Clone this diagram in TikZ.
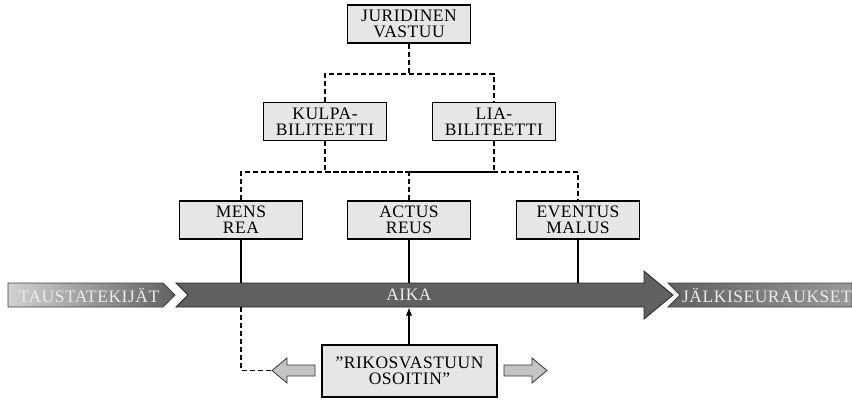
\documentclass[tikz,border=0pt]{standalone}
\usepackage{fontspec}
\setmainfont[LetterSpace=3]{Liberation Serif}
\usetikzlibrary{arrows.meta, positioning}

\definecolor{boxgray}{RGB}{230,230,230}
\definecolor{timegray}{RGB}{95,96,98}
\definecolor{smallgray}{RGB}{196,196,196}

\begin{document}
\begin{tikzpicture}[
    x=1pt, y=-1pt,
    >=Latex,
    every node/.style={font=\fontsize{17.5}{16}\selectfont},
    box/.style={rectangle, draw=black, fill=boxgray, line width=1.1pt, inner sep=2pt, align=center, minimum width=123pt, minimum height=38pt},
    link/.style={line width=1.4pt, dash pattern=on 5pt off 3pt},
    stem/.style={line width=1.8pt},
    band/.style={draw=black!75, line width=0.8pt},
    sidearrow/.style={draw=black!80, fill=smallgray, line width=0.8pt}
  ]
    \useasboundingbox (0,0) rectangle (852,400);

    % hierarchy
    \node[box] (vastuu) at (409,24) {JURIDINEN\\VASTUU};
    \node[box] (kulpa) at (325,121.5) {KULPA-\\BILITEETTI};
    \node[box] (lia) at (494,121.5) {LIA-\\BILITEETTI};
    \node[box] (mens) at (241,220) {MENS\\REA};
    \node[box] (actus) at (409,220) {ACTUS\\REUS};
    \node[box] (eventus) at (578,220) {EVENTUS\\MALUS};
    \coordinate (top) at (409,74);
    \coordinate (mid) at (409,172);

    \draw[link] (vastuu.south) -- (top);
    \draw[link] (kulpa.north) |- (top) -| (lia.north);
    \draw[link] (kulpa.south) |- (mid);
    \draw[link] (lia.south) |- (mid);
    \draw[link] (mens.north) |- (mid) -| (eventus.north);
    \draw[link] (actus.north) -- (mid);

    % time line
    \shade[band, left color=black!18, right color=black!62]
      (8,283) -- (163,283) -- (175,295) -- (163,307) -- (8,307) -- cycle;
    \shade[band, left color=black!62, right color=black!40]
      (668,283) -- (852,283) -- (852,307) -- (668,307) -- (680,295) -- cycle;
    \fill[timegray, draw=black!85, line width=0.8pt]
      (176,283) -- (644,283) -- (644,271) -- (673,295) -- (644,319) -- (644,307)
      -- (176,307) -- (188,295) -- cycle;
    \node[text=white!92!black, inner sep=0pt] (tausta) at (89,295) {TAUSTATEKIJÄT};
    \node[text=white!92!black, inner sep=0pt, minimum height=24pt] (aika) at (409,295) {AIKA};
    \node[text=white!92!black, inner sep=0pt] (seuraus) at (767,295) {JÄLKISEURAUKSET};

    \draw[stem] (mens.south) -- (mens.south |- aika.north);
    \draw[stem] (actus.south) -- (actus.south |- aika.north);
    \draw[stem] (eventus.south) -- (eventus.south |- aika.north);

    % indicator
    \node[box, minimum width=175pt, minimum height=52pt] (osoitin) at (409.5,371) {”RIKOSVASTUUN\\OSOITIN”};
    \coordinate (vasen) at (272,370.5);
    \coordinate (oikea) at (547,370.5);
    \fill[sidearrow] (vasen) -- ++(15,-12.5) -- ++(0,7) -- ++(28,0) -- ++(0,11)
      -- ++(-28,0) -- ++(0,7) -- cycle;
    \fill[sidearrow] (oikea) -- ++(-15,-12.5) -- ++(0,7) -- ++(-28,0) -- ++(0,11)
      -- ++(28,0) -- ++(0,7) -- cycle;
    \draw[->, line width=1.2pt] (osoitin.north -| actus.south) -- (actus.south |- aika.south);
    \draw[link] (mens.south |- aika.south) |- (vasen);
  \end{tikzpicture}
\end{document}
